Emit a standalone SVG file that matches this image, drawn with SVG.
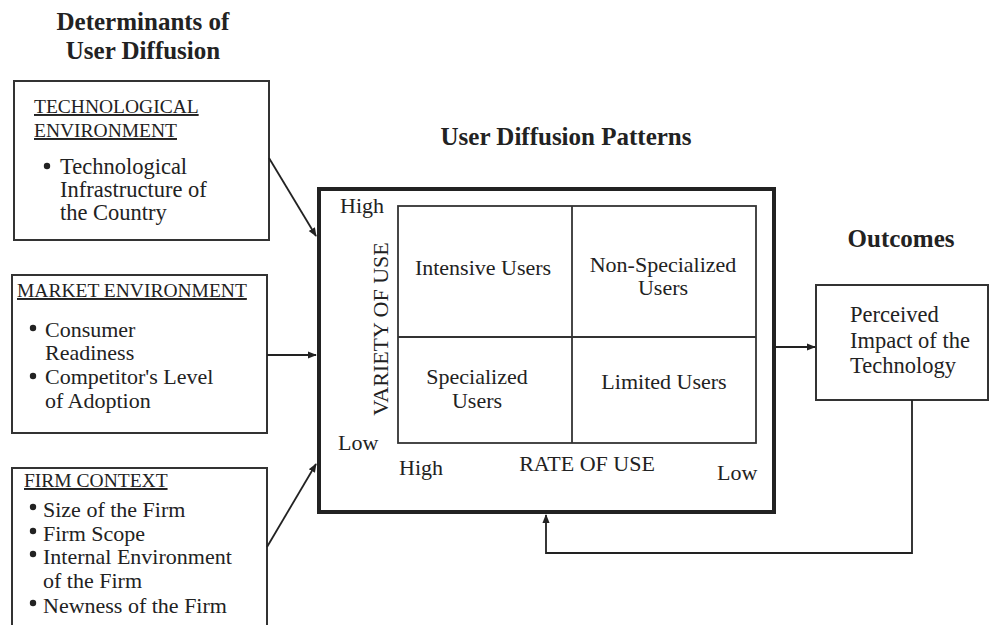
<svg xmlns="http://www.w3.org/2000/svg" width="991" height="625" viewBox="0 0 991 625">
<defs>
<style>
.t{font-family:"Liberation Serif","Times New Roman",serif;fill:#222}
.title{font-size:25px;font-weight:bold}
.hdr{font-size:19.5px;text-decoration:underline}
.body{font-size:22.5px}
.sm{font-size:22px}
.q{font-size:22px}
.box{fill:#fff;stroke:#333;stroke-width:2}
.ln{fill:none;stroke:#222;stroke-width:1.8}
</style>
<marker id="ah" viewBox="0 0 10 10" refX="9" refY="5" markerWidth="9" markerHeight="9" markerUnits="userSpaceOnUse" orient="auto">
<path d="M0,1 L10,5 L0,9 Z" fill="#222"/>
</marker>
</defs>
<rect width="991" height="625" fill="#fff"/>

<g id="titles">
<text class="t title" x="143" y="30" text-anchor="middle">Determinants of</text>
<text class="t title" x="143" y="59" text-anchor="middle">User Diffusion</text>
<text class="t title" x="566" y="145" text-anchor="middle">User Diffusion Patterns</text>
<text class="t title" x="901" y="247" text-anchor="middle">Outcomes</text>
</g>

<g id="tech-env">
<rect class="box" x="14" y="81" width="255" height="159"/>
<text class="t hdr" x="34" y="113">TECHNOLOGICAL</text>
<text class="t hdr" x="34" y="137">ENVIRONMENT</text>
<circle cx="47" cy="166" r="3.2" fill="#222"/>
<text class="t body" x="60" y="174">Technological</text>
<text class="t body" x="60" y="197">Infrastructure of</text>
<text class="t body" x="60" y="220">the Country</text>
</g>

<g id="market-env">
<rect class="box" x="12" y="275" width="255" height="158"/>
<text class="t hdr" x="17" y="297">MARKET ENVIRONMENT</text>
<circle cx="33" cy="328" r="3.2" fill="#222"/>
<text class="t sm" x="45" y="337">Consumer</text>
<text class="t sm" x="45" y="360">Readiness</text>
<circle cx="33" cy="376" r="3.2" fill="#222"/>
<text class="t sm" x="45" y="384">Competitor's Level</text>
<text class="t sm" x="45" y="408">of Adoption</text>
</g>

<g id="firm-context">
<rect class="box" x="12" y="468" width="255" height="160"/>
<text class="t hdr" x="24" y="487">FIRM CONTEXT</text>
<circle cx="33" cy="507" r="3.2" fill="#222"/>
<text class="t sm" x="43" y="517">Size of the Firm</text>
<circle cx="33" cy="531" r="3.2" fill="#222"/>
<text class="t sm" x="43" y="541">Firm Scope</text>
<circle cx="33" cy="554" r="3.2" fill="#222"/>
<text class="t sm" x="43" y="564">Internal Environment</text>
<text class="t sm" x="43" y="588">of the Firm</text>
<circle cx="33" cy="603" r="3.2" fill="#222"/>
<text class="t sm" x="43" y="613">Newness of the Firm</text>
</g>

<g id="diffusion-patterns">
<rect x="319" y="189" width="455" height="323" fill="#fff" stroke="#222" stroke-width="4"/>
<rect x="398" y="206" width="358" height="237" fill="none" stroke="#333" stroke-width="1.8"/>
<line x1="572" y1="206" x2="572" y2="443" stroke="#333" stroke-width="1.8"/>
<line x1="398" y1="337" x2="756" y2="337" stroke="#333" stroke-width="1.8"/>
<text class="t q" x="340" y="213">High</text>
<text class="t q" x="338" y="450">Low</text>
<text class="t q" x="0" y="0" text-anchor="middle" transform="translate(388,329) rotate(-90)">VARIETY OF USE</text>
<text class="t q" x="483" y="275" text-anchor="middle">Intensive Users</text>
<text class="t q" x="663" y="272" text-anchor="middle">Non-Specialized</text>
<text class="t q" x="663" y="295" text-anchor="middle">Users</text>
<text class="t q" x="477" y="384" text-anchor="middle">Specialized</text>
<text class="t q" x="477" y="408" text-anchor="middle">Users</text>
<text class="t q" x="664" y="389" text-anchor="middle">Limited Users</text>
<text class="t q" x="399" y="475">High</text>
<text class="t q" x="587" y="471" text-anchor="middle">RATE OF USE</text>
<text class="t q" x="717" y="480">Low</text>
</g>

<g id="outcome">
<rect class="box" x="816" y="285" width="172" height="115"/>
<text class="t body" x="850" y="322">Perceived</text>
<text class="t body" x="850" y="348">Impact of the</text>
<text class="t body" x="850" y="373">Technology</text>
</g>

<g id="connectors">
<line class="ln" x1="269" y1="158" x2="316" y2="236" marker-end="url(#ah)"/>
<line class="ln" x1="267" y1="355" x2="316" y2="355" marker-end="url(#ah)"/>
<line class="ln" x1="267" y1="547" x2="316" y2="464" marker-end="url(#ah)"/>
<line class="ln" x1="776" y1="347" x2="815" y2="347" marker-end="url(#ah)"/>
<polyline class="ln" points="912,400 912,553 546,553 546,515" marker-end="url(#ah)"/>
</g>
</svg>
